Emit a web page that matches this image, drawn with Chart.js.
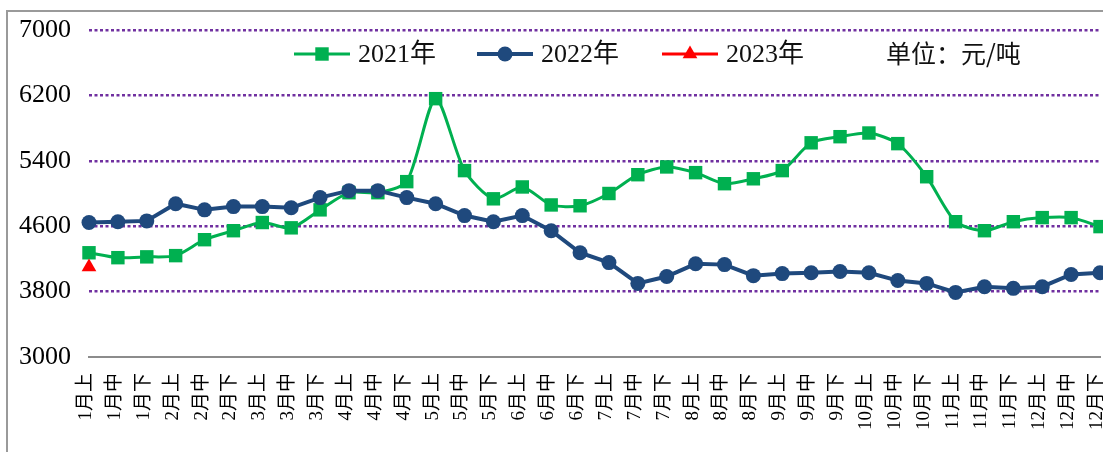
<!DOCTYPE html>
<html><head><meta charset="utf-8">
<script src="https://cdn.jsdelivr.net/npm/chart.js@4.4.1/dist/chart.umd.min.js"></script>
<style>
html,body{margin:0;padding:0;background:#fff;overflow:hidden;width:1103px;height:452px;}
#frame{position:absolute;left:6px;top:10px;width:1200px;height:600px;border-left:2px solid #9a9a9a;border-top:2px solid #9a9a9a;}
#wrap{position:absolute;left:0;top:0;width:1103px;height:452px;overflow:hidden;}
canvas{position:absolute;left:0;top:0;}
</style></head><body>
<div id="frame"></div>
<div id="wrap"><canvas id="c" width="1130" height="452"></canvas></div>
<script>
const categories = [
  '1月上','1月中','1月下','2月上','2月中','2月下','3月上','3月中','3月下',
  '4月上','4月中','4月下','5月上','5月中','5月下','6月上','6月中','6月下',
  '7月上','7月中','7月下','8月上','8月中','8月下','9月上','9月中','9月下',
  '10月上','10月中','10月下','11月上','11月中','11月下','12月上','12月中','12月下'
];
const seriesLabels = ['2021年','2022年','2023年'];
const series2021 = [4275,4215,4225,4240,4435,4545,4645,4580,4800,5010,5010,5145,
                    6160,5280,4935,5080,4860,4850,5000,5230,5325,5255,5120,5180,
                    5280,5620,5695,5740,5610,5205,4655,4545,4655,4705,4705,4595];
const series2022 = [4645,4655,4665,4875,4800,4840,4840,4825,4950,5035,5035,4950,
                    4875,4730,4655,4730,4545,4275,4155,3900,3985,4140,4130,3995,
                    4020,4030,4045,4030,3935,3900,3790,3860,3840,3860,4010,4030];
const series2023 = [4100];
const yTicks = [3000,3800,4600,5400,6200,7000];
const unitText = '单位：元/吨';

const colors = ['#00B050','#1F497D','#FF0000'];
const serifFont = '"Liberation Serif", "Noto Sans CJK SC", serif';

function drawMarker(ctx, style, x, y, r, color){
  ctx.save();
  ctx.fillStyle = color;
  ctx.beginPath();
  if (style === 'rect') {
    const s = r * Math.SQRT1_2;
    ctx.rect(x - s, y - s, 2*s, 2*s);
  } else if (style === 'circle') {
    ctx.arc(x, y, r, 0, Math.PI*2);
  } else if (style === 'triangle') {
    let rad = 0;
    ctx.moveTo(x + Math.sin(rad)*r, y - Math.cos(rad)*r);
    rad += 2*Math.PI/3;
    ctx.lineTo(x + Math.sin(rad)*r, y - Math.cos(rad)*r);
    rad += 2*Math.PI/3;
    ctx.lineTo(x + Math.sin(rad)*r, y - Math.cos(rad)*r);
    ctx.closePath();
  }
  ctx.fill();
  ctx.restore();
}

const legendPlugin = {
  id: 'customLegend',
  afterDraw(chart){
    const ctx = chart.ctx;
    const ca = chart.chartArea;
    const y = ca.top + 24;
    const starts = [294, 477, 662];
    chart.data.datasets.forEach((ds, i) => {
      const x0 = starts[i];
      ctx.save();
      ctx.strokeStyle = ds.borderColor;
      ctx.lineWidth = ds.borderWidth;
      ctx.beginPath();
      ctx.moveTo(x0, y);
      ctx.lineTo(x0 + 56, y);
      ctx.stroke();
      ctx.restore();
      drawMarker(ctx, ds.pointStyle, x0 + 28, y, ds.pointRadius, ds.pointBackgroundColor);
      ctx.save();
      ctx.fillStyle = '#111';
      ctx.font = '26px ' + serifFont;
      ctx.textBaseline = 'middle';
      ctx.textAlign = 'left';
      ctx.fillText(ds.label, x0 + 64, y + 1);
      ctx.restore();
    });
    ctx.save();
    ctx.fillStyle = '#111';
    ctx.font = '25px "Noto Sans CJK SC", sans-serif';
    ctx.textBaseline = 'middle';
    ctx.textAlign = 'left';
    ctx.fillText(unitText, 886, y - 1);
    ctx.restore();
  }
};

new Chart(document.getElementById('c'), {
  type: 'line',
  data: {
    labels: categories,
    datasets: [
      { label: seriesLabels[0], data: series2021, borderColor: colors[0], backgroundColor: colors[0],
        pointBackgroundColor: colors[0], pointBorderColor: colors[0], borderWidth: 3,
        pointStyle: 'rect', pointRadius: 9.5, pointBorderWidth: 0, tension: 0.25, order: 2, clip: false },
      { label: seriesLabels[1], data: series2022, borderColor: colors[1], backgroundColor: colors[1],
        pointBackgroundColor: colors[1], pointBorderColor: colors[1], borderWidth: 4,
        pointStyle: 'circle', pointRadius: 7.5, pointBorderWidth: 0, tension: 0, order: 1, clip: false },
      { label: seriesLabels[2], data: series2023, borderColor: colors[2], backgroundColor: colors[2],
        pointBackgroundColor: colors[2], pointBorderColor: colors[2], borderWidth: 3,
        pointStyle: 'triangle', pointRadius: 8.5, pointBorderWidth: 0, tension: 0, order: 0, clip: false }
    ]
  },
  options: {
    responsive: false,
    animation: false,
    layout: { padding: { top: 30, right: 30, left: 0, bottom: 0 } },
    plugins: { legend: { display: false }, tooltip: { enabled: false } },
    scales: {
      x: {
        grid: { display: false, drawTicks: false },
        border: { display: true, color: '#8c8c8c', width: 2 },
        ticks: { autoSkip: false, minRotation: 90, maxRotation: 90, padding: 16, labelOffset: -3,
                 color: '#000', font: { family: serifFont, size: 19 } },
        afterFit(s){ s.height = 95; s.paddingLeft = 0; s.paddingRight = 0; }
      },
      y: {
        min: 3000, max: 7000,
        afterBuildTicks(s){ s.ticks = yTicks.map(v => ({ value: v })); },
        grid: { color: c => (c.tick && c.tick.value === 3000) ? 'rgba(0,0,0,0)' : '#7030A0',
                lineWidth: 2.5, drawTicks: false },
        border: { display: false, dash: [3, 2.5] },
        ticks: { padding: 18, color: '#000', font: { family: serifFont, size: 26 },
                 callback: v => String(v) },
        afterFit(s){ s.width = 89; s.paddingTop = 0; s.paddingBottom = 0; }
      }
    }
  },
  plugins: [legendPlugin]
});
</script>
</body></html>
